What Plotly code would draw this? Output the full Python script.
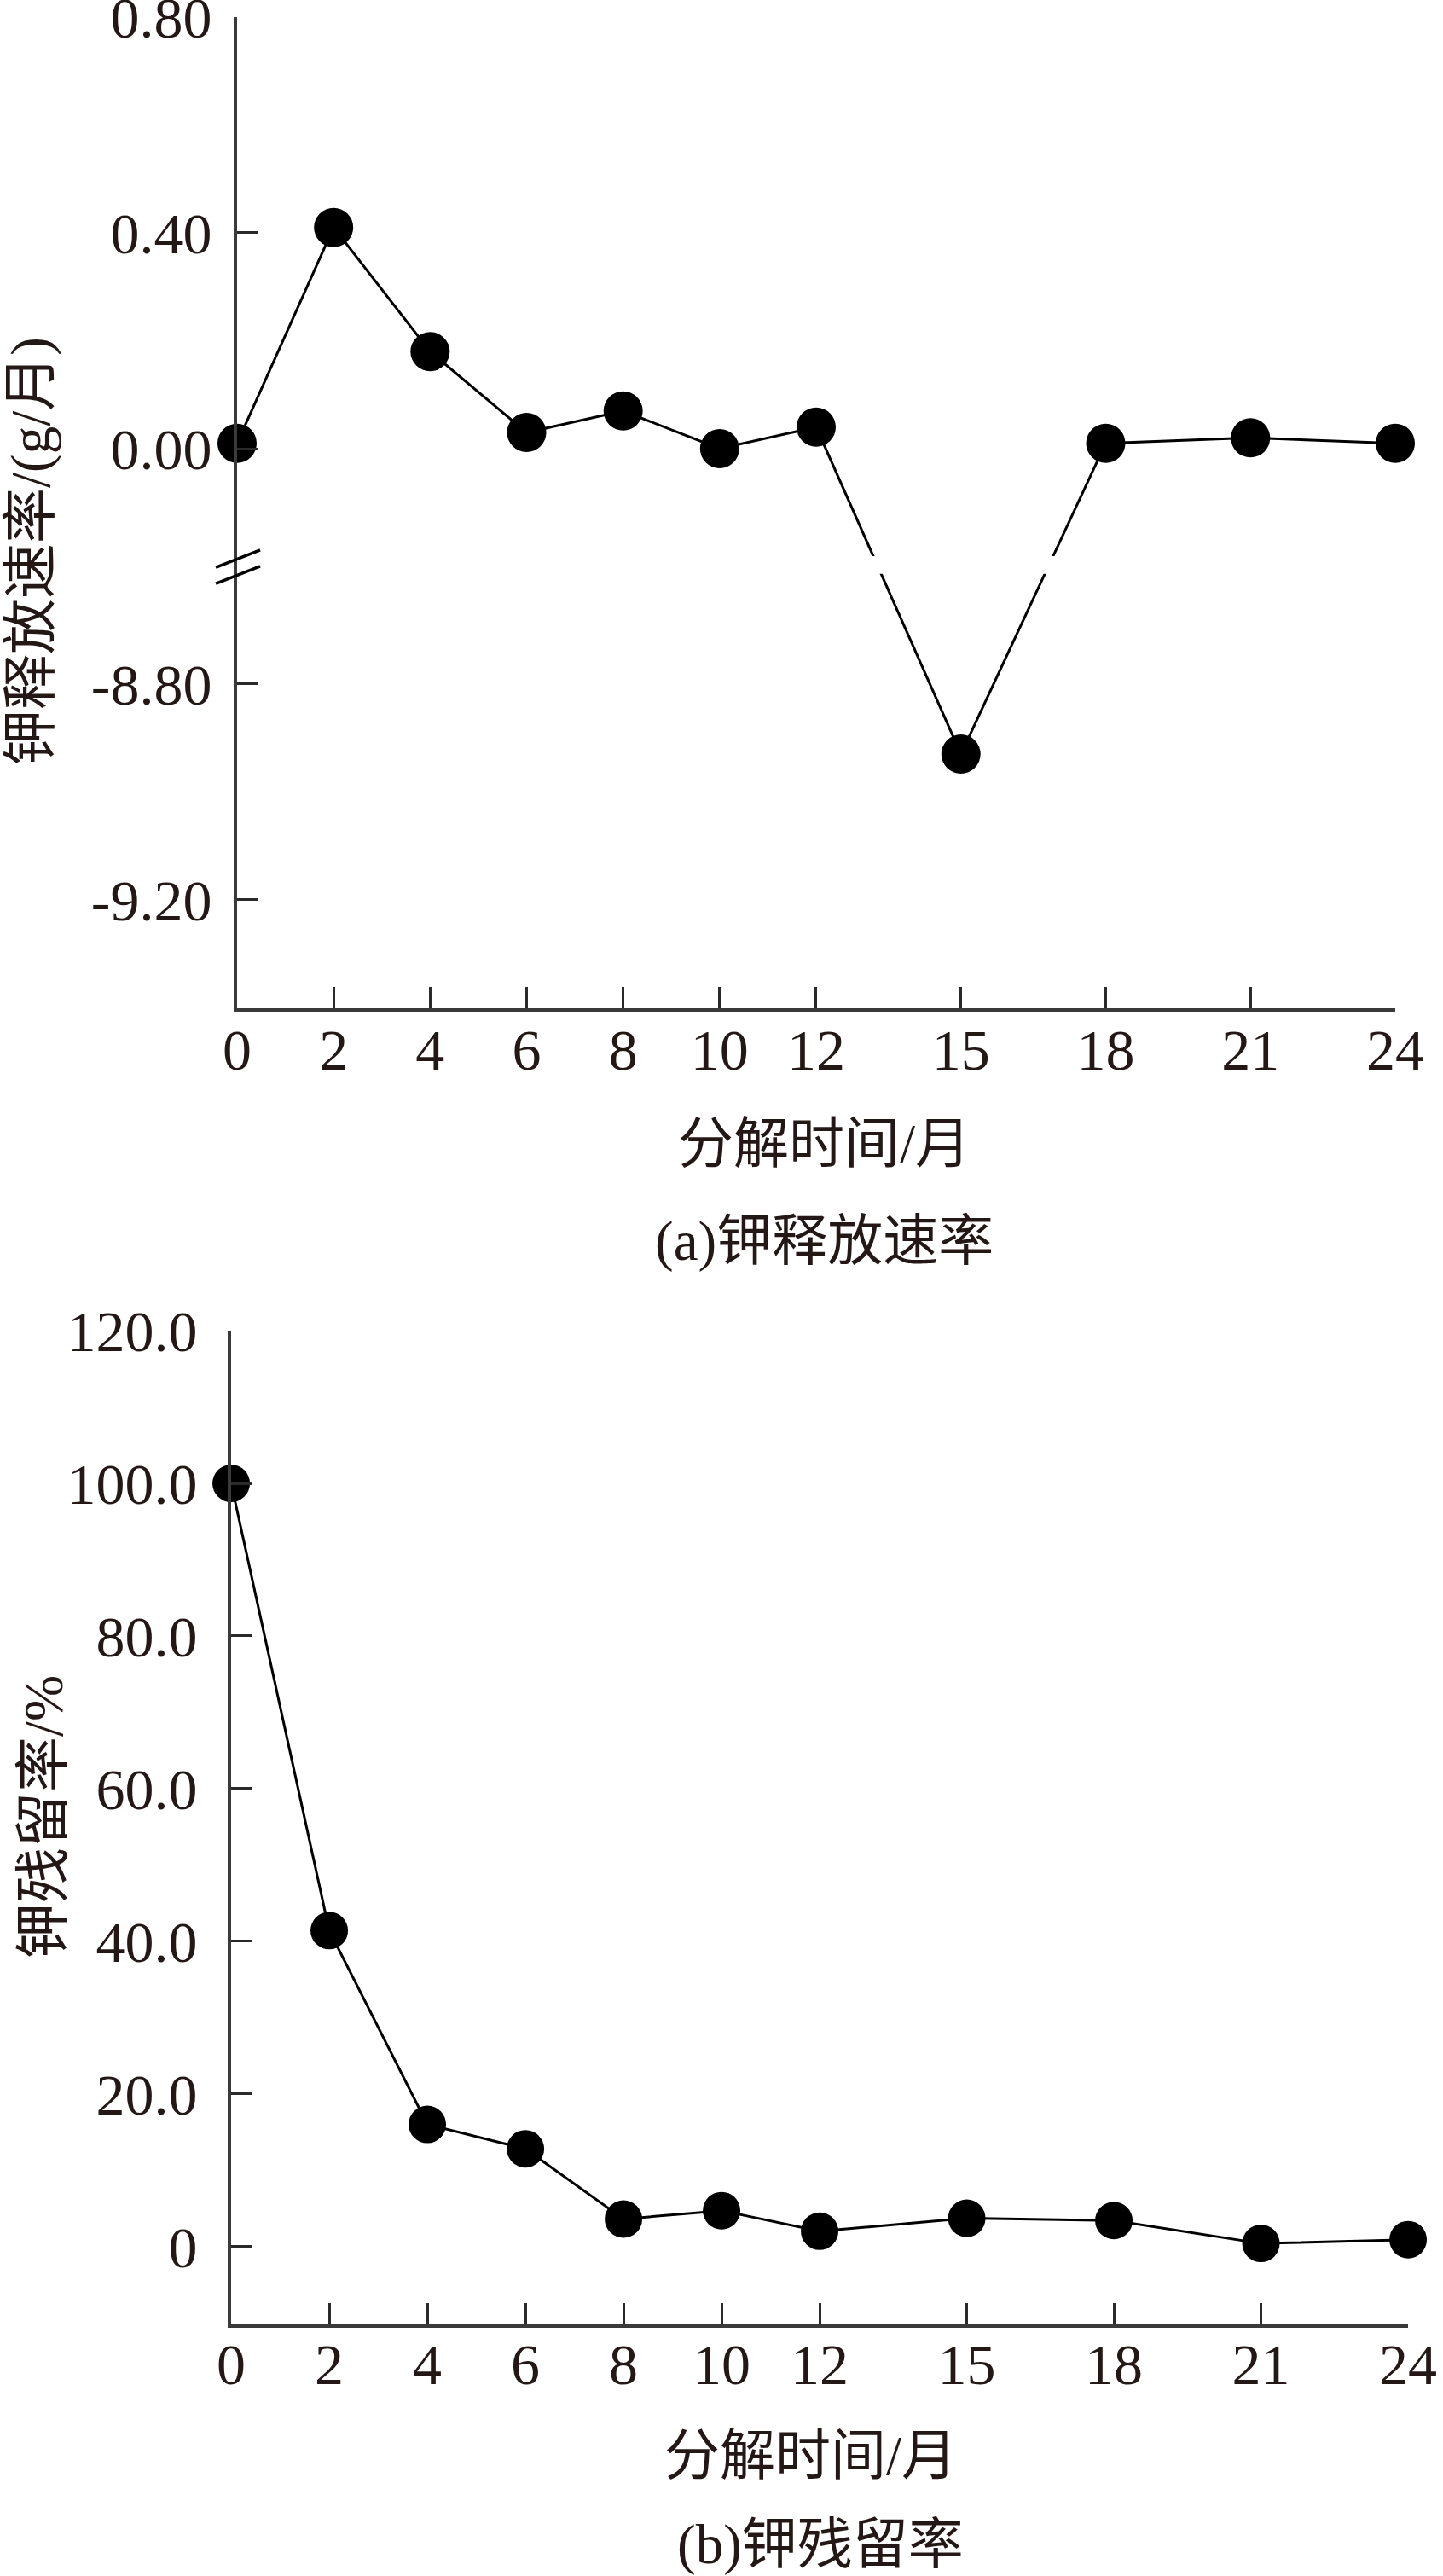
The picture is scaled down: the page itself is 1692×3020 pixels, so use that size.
import plotly.graph_objects as go

# decomposition time (months)
months = [0, 2, 4, 6, 8, 10, 12, 15, 18, 21, 24]

# (a) potassium release rate, g/month
release_rate = [0.01, 0.41, 0.18, 0.03, 0.07, 0.00, 0.04, -8.93, 0.01, 0.02, 0.01]
rate_ticks = [0.80, 0.40, 0.00, -8.80, -9.20]
rate_labels = ['0.80', '0.40', '0.00', '-8.80', '-9.20']

# (b) potassium residual rate, %
residual = [100.0, 41.4, 16.0, 12.8, 3.6, 4.7, 2.0, 3.7, 3.4, 0.4, 0.9]
residual_ticks = [0, 20, 40, 60, 80, 100, 120]
residual_labels = ['0', '20.0', '40.0', '60.0', '80.0', '100.0', '120.0']

x_ticks = months

INK = '#231815'
FONT = 'Liberation Serif, Times New Roman, Noto Sans CJK SC, serif'

# broken y axis for panel (a): values below the break get shifted up
SHIFT = 8.364


def brk(v):
    return v + SHIFT if v < -1 else v


fig = go.Figure()

fig.add_trace(go.Scatter(
    x=months, y=[brk(v) for v in release_rate],
    mode='lines+markers', cliponaxis=False,
    line=dict(color='black', width=3),
    marker=dict(color='black', size=46),
    xaxis='x', yaxis='y', showlegend=False))

fig.add_trace(go.Scatter(
    x=months, y=residual,
    mode='lines+markers', cliponaxis=False,
    line=dict(color='black', width=3),
    marker=dict(color='black', size=44),
    xaxis='x2', yaxis='y2', showlegend=False))

axis_style = dict(showline=True, linewidth=4, linecolor='#3a3a3a',
                  ticks='inside', ticklen=25, tickwidth=3, tickcolor='#2a2a2a',
                  showgrid=False, zeroline=False, mirror=False, automargin=False,
                  ticklabeloverflow='allow',
                  tickfont=dict(family=FONT, size=68, color=INK))

fig.update_layout(
    width=1692, height=3020,
    margin=dict(l=0, r=0, t=0, b=0, autoexpand=False),
    paper_bgcolor='white', plot_bgcolor='white',
    font=dict(family=FONT, color=INK),
    xaxis=dict(domain=[0.1643, 0.9669], range=[0, 24], anchor='y',
               tickmode='array', tickvals=x_ticks,
               ticktext=[str(m) for m in x_ticks], ticklabelstandoff=-14,
               **axis_style),
    yaxis=dict(domain=[0.6086, 0.9934], range=[-1.037, 0.80], anchor='x',
               tickmode='array', tickvals=[brk(v) for v in rate_ticks],
               ticktext=rate_labels, ticklabelstandoff=12, **axis_style),
    xaxis2=dict(domain=[0.1602, 0.9758], range=[0, 24], anchor='y2',
                tickmode='array', tickvals=x_ticks,
                ticktext=[str(m) for m in x_ticks], ticklabelstandoff=-16,
                **axis_style),
    yaxis2=dict(domain=[0.0977, 0.4834], range=[-10.2, 120], anchor='x2',
                tickmode='array', tickvals=residual_ticks,
                ticktext=residual_labels, ticklabelstandoff=22, **axis_style),
)

# gap in the data line where the axis is broken
fig.add_shape(type='rect', xref='x', yref='y', x0=0.4, x1=24, y0=-0.232, y1=-0.199,
              fillcolor='white', line=dict(width=0), layer='above')
# break marks on the y axis
for dy in (0.0, 0.030):
    fig.add_shape(type='line', xref='paper', yref='y',
                  x0=253 / 1692, x1=305 / 1692, y0=-0.220 - dy, y1=-0.188 - dy,
                  line=dict(color='black', width=3.5), layer='above')

txt = dict(family=FONT, size=65, color=INK)
annots = [
    dict(text='钾释放速率/(g/月)', x=0.0213, y=0.7861, textangle=-90),
    dict(text='分解时间/月', x=0.5715, y=0.5560),
    dict(text='(a)钾释放速率', x=0.5715, y=0.5182),
    dict(text='钾残留率/%', x=0.0301, y=0.2947, textangle=-90),
    dict(text='分解时间/月', x=0.5620, y=0.0467),
    dict(text='(b)钾残留率', x=0.5686, y=0.0123),
]
for a in annots:
    fig.add_annotation(xref='paper', yref='paper', showarrow=False,
                       xanchor='center', yanchor='middle', font=txt, **a)

fig.write_html('out.html', config={'displayModeBar': False},
               post_script="document.body.style.margin='0';")
